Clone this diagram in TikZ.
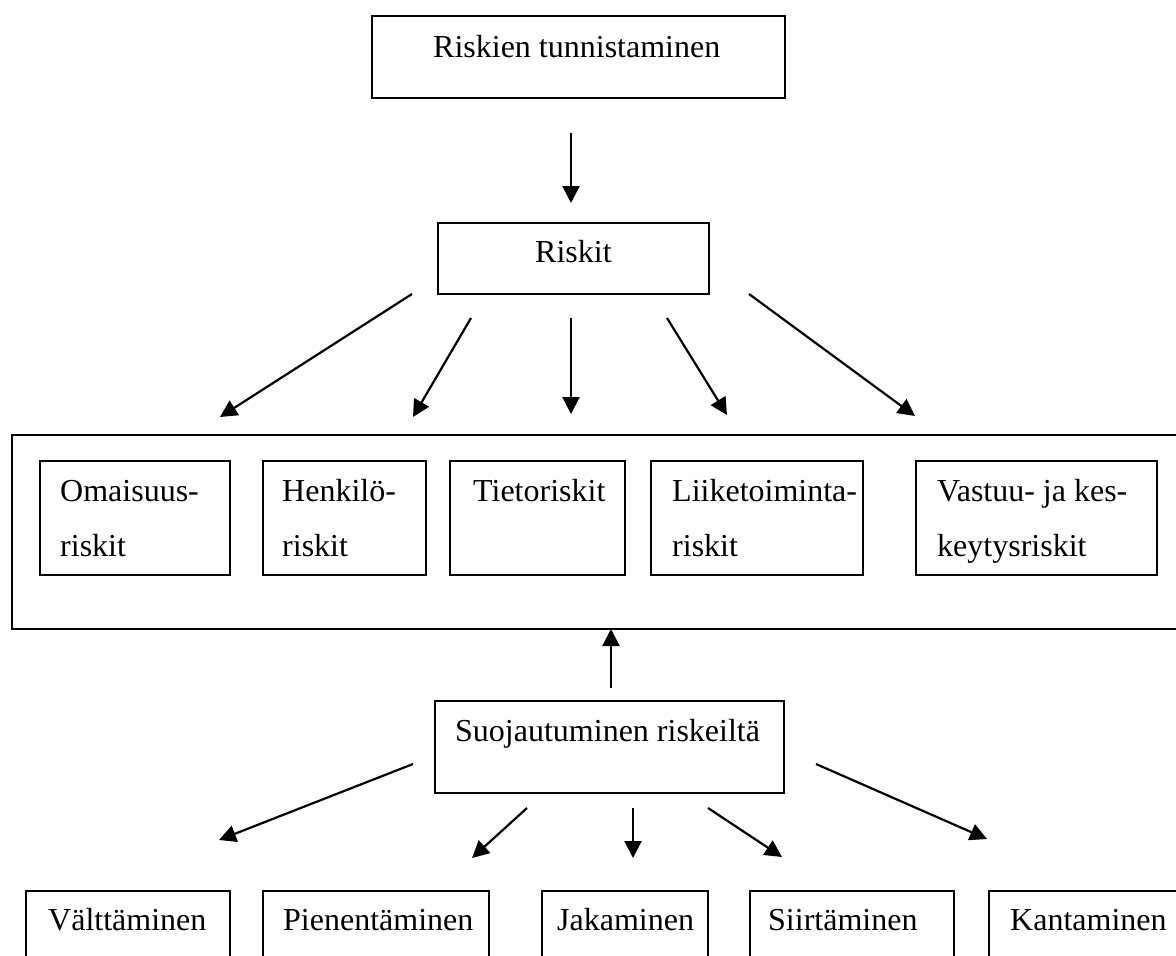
\documentclass[tikz,border=0pt]{standalone}
\usepackage{fontspec}
\setmainfont{Liberation Serif}
\usetikzlibrary{arrows.meta}
\begin{document}
\begin{tikzpicture}[x=1pt,y=-1pt,
  box/.style={draw,line width=1.8pt,inner sep=0pt,anchor=north west},
  txt/.style={anchor=base west,inner sep=0pt,font=\fontsize{32}{38}\selectfont},
  arr/.style={line width=2.2pt,-{Triangle[length=17pt,width=17pt]}}]
\useasboundingbox (0,0) rectangle (1176,956);
\clip (0,0) rectangle (1176,956);
% boxes
\node[box,minimum width=413pt,minimum height=82pt] (top) at (371,15) {};
\node[box,minimum width=271pt,minimum height=71pt] (riskit) at (437,222) {};
\node[box,minimum width=1179pt,minimum height=194pt] (big) at (11,434) {};
\node[box,minimum width=190pt,minimum height=114pt] (om) at (39,460) {};
\node[box,minimum width=163pt,minimum height=114pt] (he) at (262,460) {};
\node[box,minimum width=175pt,minimum height=114pt] (ti) at (449,460) {};
\node[box,minimum width=212pt,minimum height=114pt] (li) at (650,460) {};
\node[box,minimum width=241pt,minimum height=114pt] (va) at (915,460) {};
\node[box,minimum width=349pt,minimum height=92pt] (suo) at (434,700) {};
\node[box,minimum width=204pt,minimum height=110pt] (vat) at (25,890) {};
\node[box,minimum width=226pt,minimum height=110pt] (pie) at (262,890) {};
\node[box,minimum width=166pt,minimum height=110pt] (jak) at (541,890) {};
\node[box,minimum width=204pt,minimum height=110pt] (sii) at (749,890) {};
\node[box,minimum width=198pt,minimum height=110pt] (kan) at (988,890) {};
% texts
\node[txt] (ttop) at (433,57) {Riskien tunnistaminen};
\node[txt] (triskit) at (535,262) {Riskit};
\node[txt] (tom1) at (60,501) {Omaisuus-};
\node[txt] (tom2) at (60,556) {riskit};
\node[txt] (the1) at (282,501) {Henkilö-};
\node[txt] (the2) at (282,556) {riskit};
\node[txt] (tti) at (473,501) {Tietoriskit};
\node[txt] (tli1) at (672,501) {Liiketoiminta-};
\node[txt] (tli2) at (672,556) {riskit};
\node[txt] (tva1) at (937,501) {Vastuu- ja kes-};
\node[txt] (tva2) at (937,556) {keytysriskit};
\node[txt] (tsuo) at (455,741) {Suojautuminen riskeiltä};
\node[txt] (tvat) at (48,930) {Välttäminen};
\node[txt] (tpie) at (283,930) {Pienentäminen};
\node[txt] (tjak) at (557,930) {Jakaminen};
\node[txt] (tsii) at (768,930) {Siirtäminen};
\node[txt] (tkan) at (1010,930) {Kantaminen};
% arrow end points
\coordinate (t0) at (571,133); \coordinate (t1) at (571,203);
\coordinate (a1s) at (412,294); \coordinate (a1e) at (220,417);
\coordinate (a2s) at (471,318); \coordinate (a2e) at (413,417);
\coordinate (a3s) at (571,318); \coordinate (a3e) at (571,414);
\coordinate (a4s) at (667,318); \coordinate (a4e) at (727,415);
\coordinate (a5s) at (749,294); \coordinate (a5e) at (915,416);
\coordinate (us) at (611,688); \coordinate (ue) at (611,629);
\coordinate (b1s) at (413,764); \coordinate (b1e) at (219,840);
\coordinate (b2s) at (527,808); \coordinate (b2e) at (472,858);
\coordinate (b3s) at (633,808); \coordinate (b3e) at (633,858);
\coordinate (b4s) at (708,808); \coordinate (b4e) at (782,857);
\coordinate (b5s) at (816,764); \coordinate (b5e) at (987,839);
% arrows
\draw[arr] (t0) -- (t1);
\draw[arr] (a1s) -- (a1e);
\draw[arr] (a2s) -- (a2e);
\draw[arr] (a3s) -- (a3e);
\draw[arr] (a4s) -- (a4e);
\draw[arr] (a5s) -- (a5e);
\draw[arr] (us) -- (ue);
\draw[arr] (b1s) -- (b1e);
\draw[arr] (b2s) -- (b2e);
\draw[arr] (b3s) -- (b3e);
\draw[arr] (b4s) -- (b4e);
\draw[arr] (b5s) -- (b5e);
\end{tikzpicture}
\end{document}
